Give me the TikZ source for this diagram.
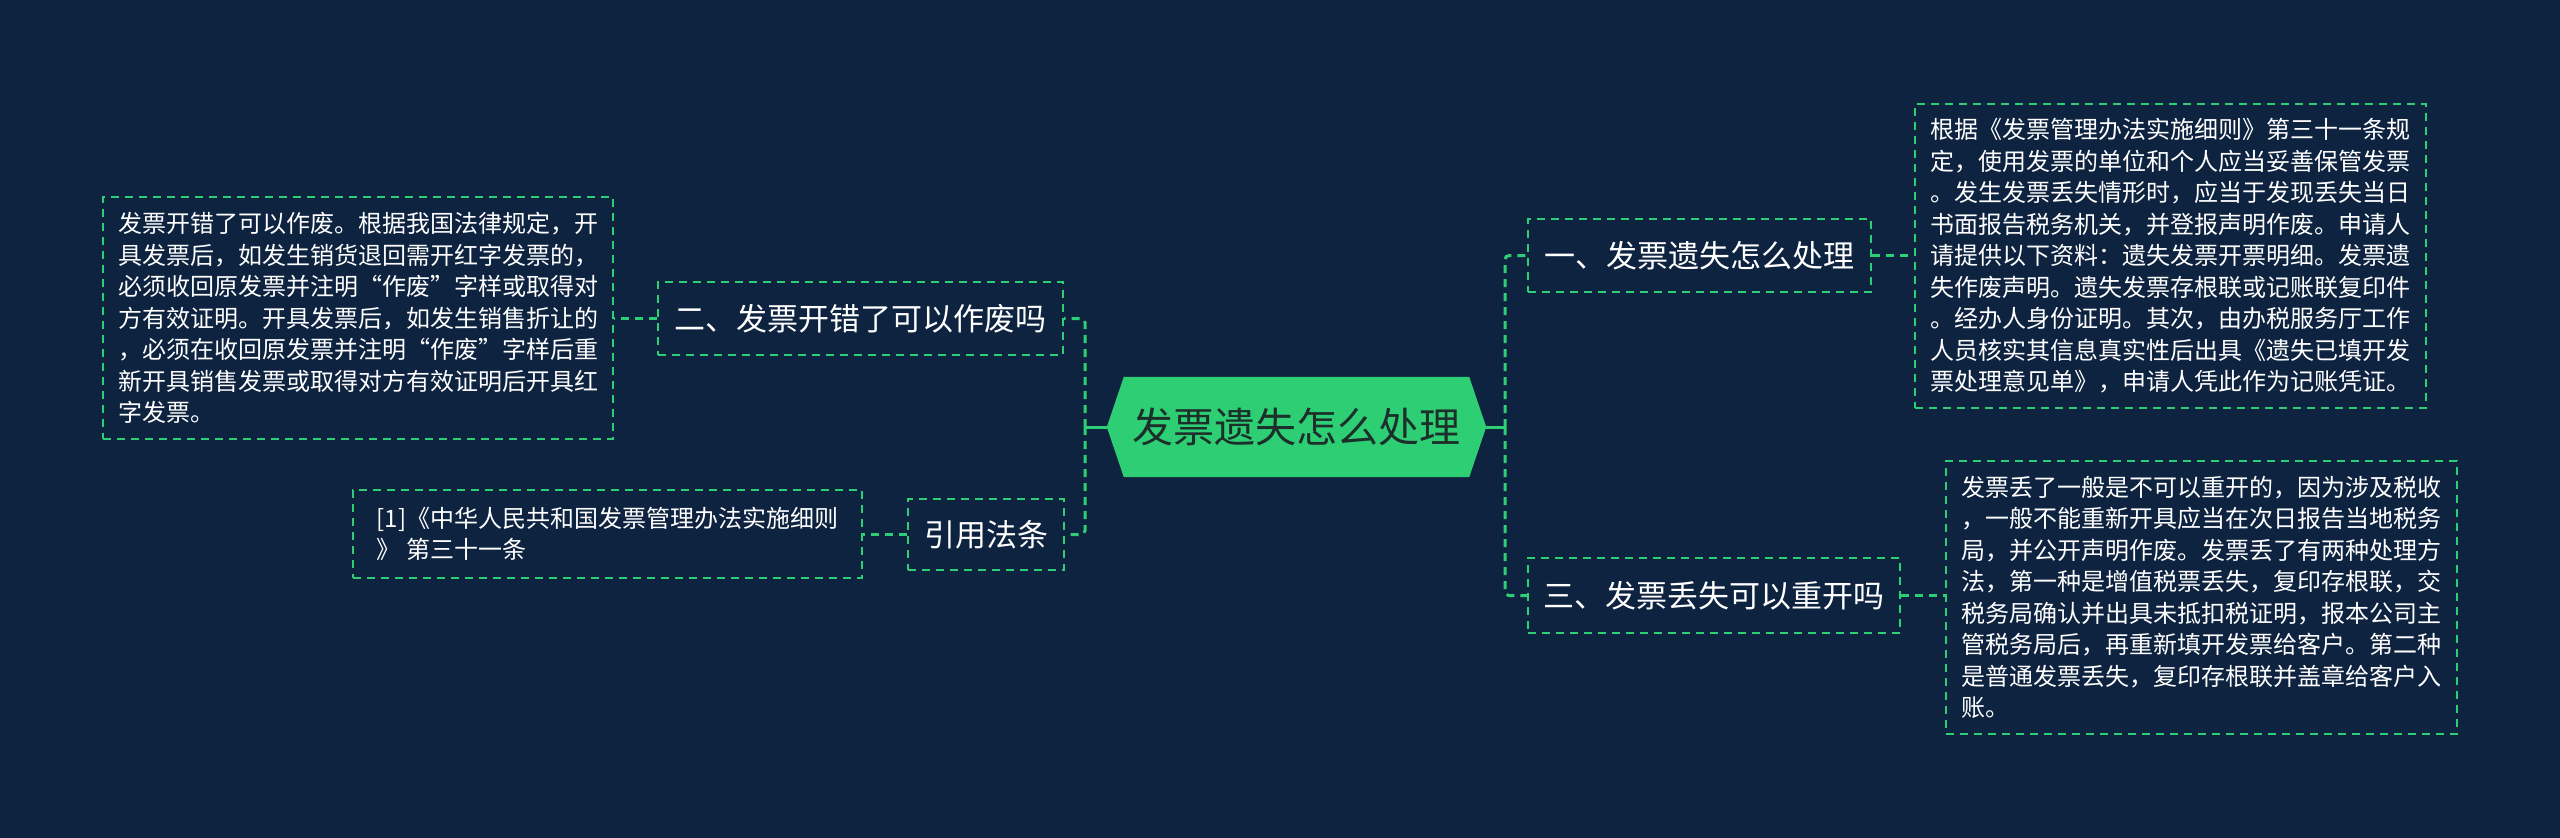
\documentclass[tikz,border=0pt]{standalone}
\usepackage{fontspec}
\setmainfont{Noto Sans CJK SC}
\usetikzlibrary{backgrounds}
\definecolor{bgc}{HTML}{0E2340}
\definecolor{grn}{HTML}{2ECF74}
\definecolor{hubtxt}{HTML}{1C2F2A}
\begin{document}
\begin{tikzpicture}[x=1pt,y=-1pt,
  dashbox/.style={draw=grn, line width=2.2pt, dash pattern=on 8pt off 6pt, inner sep=0pt},
  textbox/.style={dashbox, font=\fontsize{24}{31.5}\selectfont, text=white, align=left},
  topic/.style={dashbox, font=\fontsize{31}{36}\selectfont, text=white},
  dconn/.style={draw=grn, line width=3pt, dash pattern=on 8pt off 6pt, rounded corners=4pt},
  sconn/.style={draw=grn, line width=3pt}]
\useasboundingbox (0,0) rectangle (2560,838);

% hub
\node[minimum width=379pt, minimum height=100pt, inner sep=0pt, text=hubtxt,
      font=\fontsize{41}{46}\selectfont] (hub) at (1296.5,427) {发票遗失怎么处理};
\begin{scope}[on background layer]
  \fill[bgc] (0,0) rectangle (2560,838);
  \fill[grn] ([xshift=17pt]hub.north west) -- ([xshift=-17pt]hub.north east) -- (hub.east)
     -- ([xshift=-17pt]hub.south east) -- ([xshift=17pt]hub.south west) -- (hub.west) -- cycle;
\end{scope}

% topics
\node[topic, minimum width=343pt, minimum height=73pt] (n1) at (1699.5,255.5) {一、发票遗失怎么处理};
\node[topic, minimum width=372pt, minimum height=75pt] (n3) at (1714,595.5) {三、发票丢失可以重开吗};
\node[topic, minimum width=405pt, minimum height=73pt] (n2) at (860.5,318.5) {二、发票开错了可以作废吗};
\node[topic, minimum width=156pt, minimum height=71pt] (ref) at (986,534.5) {引用法条};

% detail boxes
\node[textbox, minimum width=511pt, minimum height=304pt] (t1) at (2170.5,256) {根据《发票管理办法实施细则》第三十一条规\\
定，使用发票的单位和个人应当妥善保管发票\\
。发生发票丢失情形时，应当于发现丢失当日\\
书面报告税务机关，并登报声明作废。申请人\\
请提供以下资料：遗失发票开票明细。发票遗\\
失作废声明。遗失发票存根联或记账联复印件\\
。经办人身份证明。其次，由办税服务厅工作\\
人员核实其信息真实性后出具《遗失已填开发\\
票处理意见单》，申请人凭此作为记账凭证。};

\node[textbox, minimum width=511pt, minimum height=273pt] (t3) at (2201.5,597.5) {发票丢了一般是不可以重开的，因为涉及税收\\
，一般不能重新开具应当在次日报告当地税务\\
局，并公开声明作废。发票丢了有两种处理方\\
法，第一种是增值税票丢失，复印存根联，交\\
税务局确认并出具未抵扣税证明，报本公司主\\
管税务局后，再重新填开发票给客户。第二种\\
是普通发票丢失，复印存根联并盖章给客户入\\
账。};

\node[textbox, minimum width=510pt, minimum height=242pt] (t2) at (358,318) {发票开错了可以作废。根据我国法律规定，开\\
具发票后，如发生销货退回需开红字发票的，\\
必须收回原发票并注明“作废”字样或取得对\\
方有效证明。开具发票后，如发生销售折让的\\
，必须在收回原发票并注明“作废”字样后重\\
新开具销售发票或取得对方有效证明后开具红\\
字发票。};

\node[textbox, minimum width=509pt, minimum height=88pt] (cite) at (607.5,534) {[1]《中华人民共和国发票管理办法实施细则\\
》 第三十一条};

% connectors
\coordinate (rsp) at (1505,427);
\coordinate (lsp) at (1085,427);
\draw[sconn] (hub.east) -- (rsp);
\draw[sconn] (hub.west) -- (lsp);
\draw[dconn] (rsp) |- (n1.west);
\draw[dconn] (rsp) |- (n3.west);
\draw[dconn] (lsp) |- (n2.east);
\draw[dconn] (lsp) |- (ref.east);
\draw[dconn] (n1.east) -- (t1.west |- n1.east);
\draw[dconn] (n3.east) -- (t3.west |- n3.east);
\draw[dconn] (n2.west) -- (t2.east |- n2.west);
\draw[dconn] (ref.west) -- (cite.east |- ref.west);
\end{tikzpicture}
\end{document}
